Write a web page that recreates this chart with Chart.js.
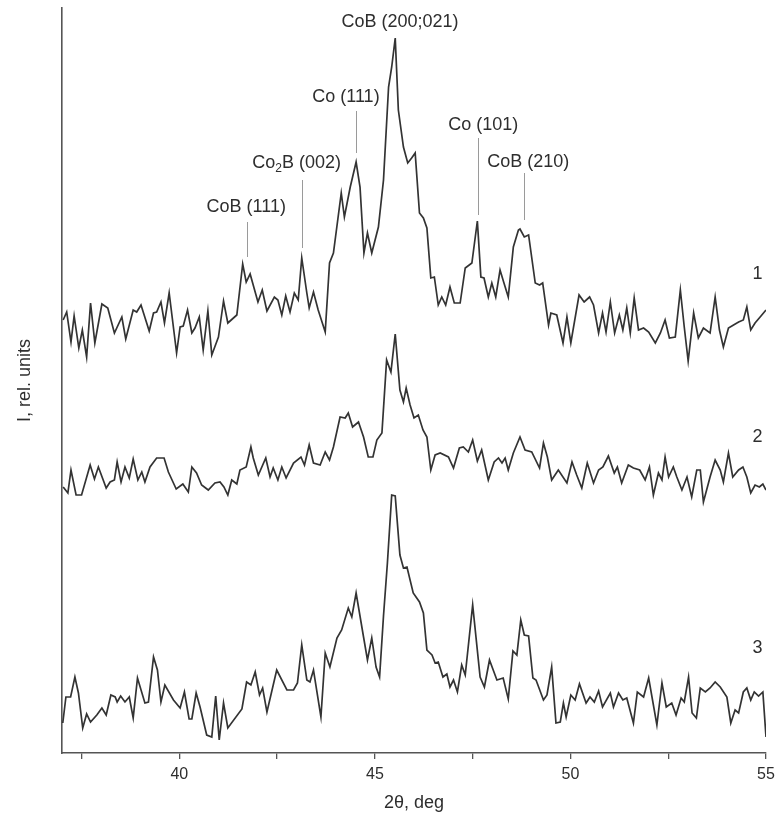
<!DOCTYPE html>
<html>
<head>
<meta charset="utf-8">
<title>XRD patterns</title>
<script src="https://cdn.jsdelivr.net/npm/chart.js@4.4.1/dist/chart.umd.min.js"></script>
<style>
  body { margin: 0; background: #fff; }
  canvas { display: block; }
</style>
</head>
<body>
<canvas id="xrdChart" width="775" height="817"></canvas>
<script>
// pattern 1 (top)
var twoTheta1 = [37.03, 37.12, 37.23, 37.31, 37.43, 37.52, 37.63, 37.73, 37.84, 38.02, 38.17, 38.34, 38.53, 38.63, 38.82, 38.91, 39.02, 39.23, 39.34, 39.42, 39.53, 39.62, 39.74, 39.93, 40.02, 40.10, 40.21, 40.32, 40.40, 40.51, 40.61, 40.73, 40.83, 41.00, 41.13, 41.24, 41.47, 41.62, 41.71, 41.81, 42.01, 42.12, 42.24, 42.43, 42.52, 42.62, 42.72, 42.83, 42.94, 43.04, 43.13, 43.26, 43.32, 43.43, 43.55, 43.73, 43.84, 43.94, 44.14, 44.22, 44.37, 44.52, 44.62, 44.72, 44.81, 44.92, 45.09, 45.22, 45.35, 45.43, 45.52, 45.60, 45.73, 45.84, 45.94, 46.03, 46.14, 46.24, 46.33, 46.43, 46.52, 46.62, 46.71, 46.81, 46.92, 47.03, 47.18, 47.31, 47.48, 47.62, 47.71, 47.79, 47.90, 47.99, 48.09, 48.20, 48.30, 48.41, 48.54, 48.67, 48.71, 48.82, 48.93, 49.10, 49.21, 49.29, 49.44, 49.50, 49.65, 49.81, 49.91, 50.01, 50.22, 50.35, 50.49, 50.59, 50.72, 50.82, 50.91, 51.02, 51.13, 51.25, 51.34, 51.44, 51.53, 51.63, 51.74, 51.87, 52.00, 52.17, 52.30, 52.42, 52.53, 52.68, 52.81, 52.91, 53.01, 53.15, 53.27, 53.40, 53.57, 53.70, 53.81, 53.91, 54.04, 54.17, 54.30, 54.42, 54.51, 54.61, 54.72, 54.85, 55.00];
var intensity1 = [433, 441, 411, 437, 405, 423, 396, 450, 410, 449, 445, 420, 436, 414, 443, 441, 448, 422, 440, 441, 451, 430, 460, 400, 426, 427, 443, 420, 425, 436, 403, 442, 398, 416, 452, 430, 438, 489, 471, 479, 451, 463, 442, 456, 453, 438, 457, 441, 460, 453, 495, 460, 445, 461, 443, 421, 490, 500, 560, 536, 566, 591, 566, 500, 520, 500, 526, 573, 666, 686, 715, 643, 606, 590, 595, 600, 540, 535, 525, 475, 476, 448, 456, 448, 466, 450, 450, 485, 490, 532, 476, 475, 456, 470, 456, 483, 470, 456, 506, 523, 524, 516, 518, 470, 468, 470, 428, 440, 438, 410, 436, 410, 458, 451, 456, 448, 420, 440, 421, 451, 420, 438, 423, 445, 420, 455, 423, 425, 421, 410, 420, 433, 415, 416, 463, 426, 392, 440, 415, 425, 420, 456, 423, 406, 425, 428, 431, 433, 446, 423, 430, 436, 443];

// pattern 2 (middle)
var twoTheta2 = [37.03, 37.15, 37.23, 37.36, 37.50, 37.72, 37.83, 37.93, 38.13, 38.23, 38.34, 38.41, 38.51, 38.61, 38.72, 38.82, 38.94, 39.04, 39.12, 39.25, 39.42, 39.61, 39.72, 39.92, 40.09, 40.23, 40.32, 40.44, 40.57, 40.74, 40.91, 41.04, 41.14, 41.24, 41.34, 41.47, 41.55, 41.71, 41.83, 41.89, 42.02, 42.21, 42.32, 42.40, 42.52, 42.62, 42.73, 42.92, 43.11, 43.20, 43.32, 43.43, 43.60, 43.73, 43.84, 43.94, 44.11, 44.24, 44.32, 44.43, 44.58, 44.71, 44.83, 44.95, 45.05, 45.18, 45.30, 45.41, 45.52, 45.64, 45.73, 45.80, 45.90, 46.00, 46.11, 46.23, 46.33, 46.43, 46.54, 46.67, 46.88, 47.01, 47.16, 47.26, 47.39, 47.50, 47.62, 47.73, 47.90, 48.05, 48.16, 48.25, 48.33, 48.41, 48.54, 48.71, 48.84, 49.01, 49.21, 49.31, 49.41, 49.52, 49.69, 49.91, 50.04, 50.16, 50.29, 50.43, 50.59, 50.72, 50.83, 50.97, 51.12, 51.20, 51.31, 51.48, 51.61, 51.77, 51.91, 52.02, 52.12, 52.25, 52.34, 52.42, 52.51, 52.63, 52.72, 52.85, 52.98, 53.10, 53.23, 53.32, 53.40, 53.57, 53.70, 53.83, 53.91, 54.04, 54.15, 54.30, 54.41, 54.51, 54.61, 54.72, 54.83, 54.92, 55.00];
var intensity2 = [266, 260, 283, 258, 258, 288, 274, 286, 265, 271, 273, 291, 271, 286, 275, 294, 273, 281, 271, 286, 295, 295, 281, 264, 269, 261, 286, 280, 268, 263, 270, 271, 266, 258, 273, 269, 283, 286, 306, 295, 278, 295, 276, 285, 273, 286, 275, 290, 296, 288, 308, 290, 288, 301, 293, 306, 336, 335, 340, 326, 331, 316, 296, 296, 313, 320, 393, 381, 419, 363, 351, 365, 348, 335, 338, 323, 316, 283, 298, 300, 296, 285, 305, 306, 301, 313, 292, 303, 273, 291, 295, 290, 295, 283, 300, 316, 303, 301, 285, 310, 296, 273, 283, 270, 291, 278, 265, 290, 270, 283, 286, 297, 280, 286, 270, 288, 285, 283, 273, 286, 258, 280, 273, 296, 276, 286, 276, 263, 276, 256, 283, 283, 251, 276, 293, 283, 271, 300, 276, 283, 286, 276, 260, 268, 266, 269, 263];

// pattern 3 (bottom)
var twoTheta3 = [37.02, 37.10, 37.22, 37.33, 37.42, 37.53, 37.63, 37.73, 37.89, 38.02, 38.13, 38.25, 38.36, 38.41, 38.50, 38.61, 38.72, 38.82, 38.93, 39.12, 39.21, 39.34, 39.44, 39.53, 39.63, 39.85, 40.02, 40.13, 40.25, 40.32, 40.43, 40.53, 40.70, 40.83, 40.93, 41.02, 41.13, 41.24, 41.60, 41.72, 41.83, 41.94, 42.05, 42.13, 42.24, 42.49, 42.75, 42.92, 43.02, 43.13, 43.26, 43.34, 43.43, 43.62, 43.73, 43.85, 44.03, 44.15, 44.32, 44.41, 44.52, 44.71, 44.81, 44.92, 45.03, 45.12, 45.22, 45.32, 45.43, 45.52, 45.64, 45.73, 45.82, 45.98, 46.14, 46.24, 46.33, 46.46, 46.54, 46.62, 46.74, 46.84, 46.92, 47.01, 47.11, 47.22, 47.31, 47.50, 47.69, 47.80, 47.93, 48.12, 48.28, 48.41, 48.53, 48.63, 48.73, 48.82, 48.93, 49.04, 49.12, 49.31, 49.40, 49.52, 49.63, 49.74, 49.82, 49.89, 50.01, 50.12, 50.23, 50.40, 50.50, 50.61, 50.72, 50.82, 51.02, 51.10, 51.23, 51.34, 51.44, 51.61, 51.71, 51.87, 52.00, 52.21, 52.34, 52.45, 52.59, 52.70, 52.83, 52.91, 53.02, 53.11, 53.22, 53.32, 53.45, 53.57, 53.70, 53.83, 54.00, 54.10, 54.21, 54.30, 54.42, 54.51, 54.61, 54.70, 54.81, 54.92, 55.00];
var intensity3 = [30, 56, 56, 76, 60, 25, 39, 31, 38, 45, 38, 58, 56, 51, 57, 51, 56, 35, 75, 50, 51, 96, 83, 51, 68, 53, 45, 61, 34, 34, 60, 46, 18, 16, 57, 13, 50, 25, 44, 71, 68, 81, 58, 65, 41, 83, 63, 63, 70, 108, 73, 71, 83, 36, 100, 86, 115, 123, 145, 136, 160, 116, 93, 115, 86, 76, 137, 190, 258, 257, 198, 185, 186, 160, 151, 140, 103, 98, 90, 91, 76, 79, 66, 73, 61, 88, 78, 148, 76, 66, 93, 73, 75, 54, 102, 98, 133, 118, 117, 75, 73, 53, 58, 86, 30, 31, 50, 36, 58, 53, 69, 50, 56, 51, 62, 46, 60, 46, 60, 53, 55, 30, 61, 56, 75, 28, 70, 46, 50, 38, 55, 51, 76, 40, 35, 65, 61, 65, 71, 66, 56, 30, 43, 40, 61, 65, 53, 61, 57, 61, 16];

// x axis ticks (minor ones have no label)
var xTicks = [37.5, 40, 42.5, 45, 47.5, 50, 52.5, 55];
var xTickLabels = ['', '40', '', '45', '', '50', '', '55'];

// peak labels
var peakLabels = [
    { parts: [['CoB (111)', false]], x: 41.71, y: 546, lineX: 41.73, lineTop: 531, lineBottom: 496 },
    { parts: [['Co', false], ['2', true], ['B (002)', false]], x: 43.00, y: 590, lineX: 43.13, lineTop: 573, lineBottom: 505 },
    { parts: [['Co (111)', false]], x: 44.26, y: 656, lineX: 44.52, lineTop: 642, lineBottom: 600 },
    { parts: [['CoB (200;021)', false]], x: 45.64, y: 731 },
    { parts: [['Co (101)', false]], x: 47.77, y: 628, lineX: 47.63, lineTop: 615, lineBottom: 538 },
    { parts: [['CoB (210)', false]], x: 48.92, y: 591, lineX: 48.80, lineTop: 580, lineBottom: 533 },
    { parts: [['1', false]], x: 54.78, y: 479 },
    { parts: [['2', false]], x: 54.78, y: 316 },
    { parts: [['3', false]], x: 54.78, y: 105 }
];

var fontFamily = '"Liberation Sans", Arial, Helvetica, sans-serif';
var textColor = '#2e2e2e';

function toPoints(xs, ys) {
    return xs.map(function (x, i) { return { x: x, y: ys[i] }; });
}

function makeSet(xs, ys) {
    return {
        data: toPoints(xs, ys),
        borderColor: '#333333',
        borderWidth: 1.7,
        pointRadius: 0,
        tension: 0,
        fill: false
    };
}

var peakLabelPlugin = {
    id: 'peakLabels',
    afterDatasetsDraw: function (chart) {
        var ctx = chart.ctx;
        var xs = chart.scales.x, ys = chart.scales.y;
        ctx.save();
        peakLabels.forEach(function (p) {
            if (p.lineX !== undefined) {
                var lx = Math.round(xs.getPixelForValue(p.lineX)) + 0.5;
                ctx.strokeStyle = '#9a9a9a';
                ctx.lineWidth = 1;
                ctx.beginPath();
                ctx.moveTo(lx, ys.getPixelForValue(p.lineTop));
                ctx.lineTo(lx, ys.getPixelForValue(p.lineBottom));
                ctx.stroke();
            }
            var big = '18px ' + fontFamily, small = '12px ' + fontFamily;
            var total = 0;
            p.parts.forEach(function (part) {
                ctx.font = part[1] ? small : big;
                total += ctx.measureText(part[0]).width;
            });
            var cx = xs.getPixelForValue(p.x) - total / 2;
            var cy = ys.getPixelForValue(p.y);
            ctx.fillStyle = textColor;
            ctx.textBaseline = 'middle';
            ctx.textAlign = 'left';
            p.parts.forEach(function (part) {
                ctx.font = part[1] ? small : big;
                ctx.fillText(part[0], cx, part[1] ? cy + 6 : cy);
                cx += ctx.measureText(part[0]).width;
            });
        });
        ctx.restore();
    }
};

var xrdCtx = document.getElementById('xrdChart').getContext('2d');
new Chart(xrdCtx, {
    type: 'line',
    data: {
        datasets: [
            makeSet(twoTheta1, intensity1),
            makeSet(twoTheta2, intensity2),
            makeSet(twoTheta3, intensity3)
        ]
    },
    options: {
        responsive: false,
        animation: false,
        layout: { padding: { top: 8, right: 9, left: 0, bottom: 0 } },
        plugins: {
            legend: { display: false },
            tooltip: { enabled: false }
        },
        scales: {
            x: {
                type: 'linear',
                min: 37,
                max: 55,
                afterBuildTicks: function (scale) {
                    scale.ticks = xTicks.map(function (v) { return { value: v }; });
                },
                afterFit: function (scale) {
                    scale.height = 64;
                    // the "55" label may run into the right margin
                    scale.paddingLeft = 0;
                    scale.paddingRight = 0;
                },
                grid: { display: true, drawOnChartArea: false, drawTicks: true, tickLength: 6, color: '#555', lineWidth: 1.3 },
                border: { display: true, color: '#555', width: 1.6 },
                ticks: {
                    autoSkip: false,
                    maxRotation: 0,
                    padding: 6,
                    color: textColor,
                    font: { family: fontFamily, size: 16 },
                    callback: function (value) {
                        var i = xTicks.indexOf(value);
                        return i >= 0 ? xTickLabels[i] : '';
                    }
                },
                title: {
                    display: true,
                    text: '2θ, deg',
                    color: textColor,
                    font: { family: fontFamily, size: 18 },
                    padding: { top: 0, bottom: 3 }
                }
            },
            y: {
                min: 0,
                max: 745,
                afterFit: function (scale) { scale.width = 62; },
                grid: { display: false },
                border: { display: true, color: '#555', width: 1.6 },
                ticks: { display: false },
                title: {
                    display: true,
                    text: 'I, rel. units',
                    color: textColor,
                    font: { family: fontFamily, size: 18 },
                    padding: { top: 14, bottom: 0 }
                }
            }
        }
    },
    plugins: [peakLabelPlugin]
});
</script>
</body>
</html>
